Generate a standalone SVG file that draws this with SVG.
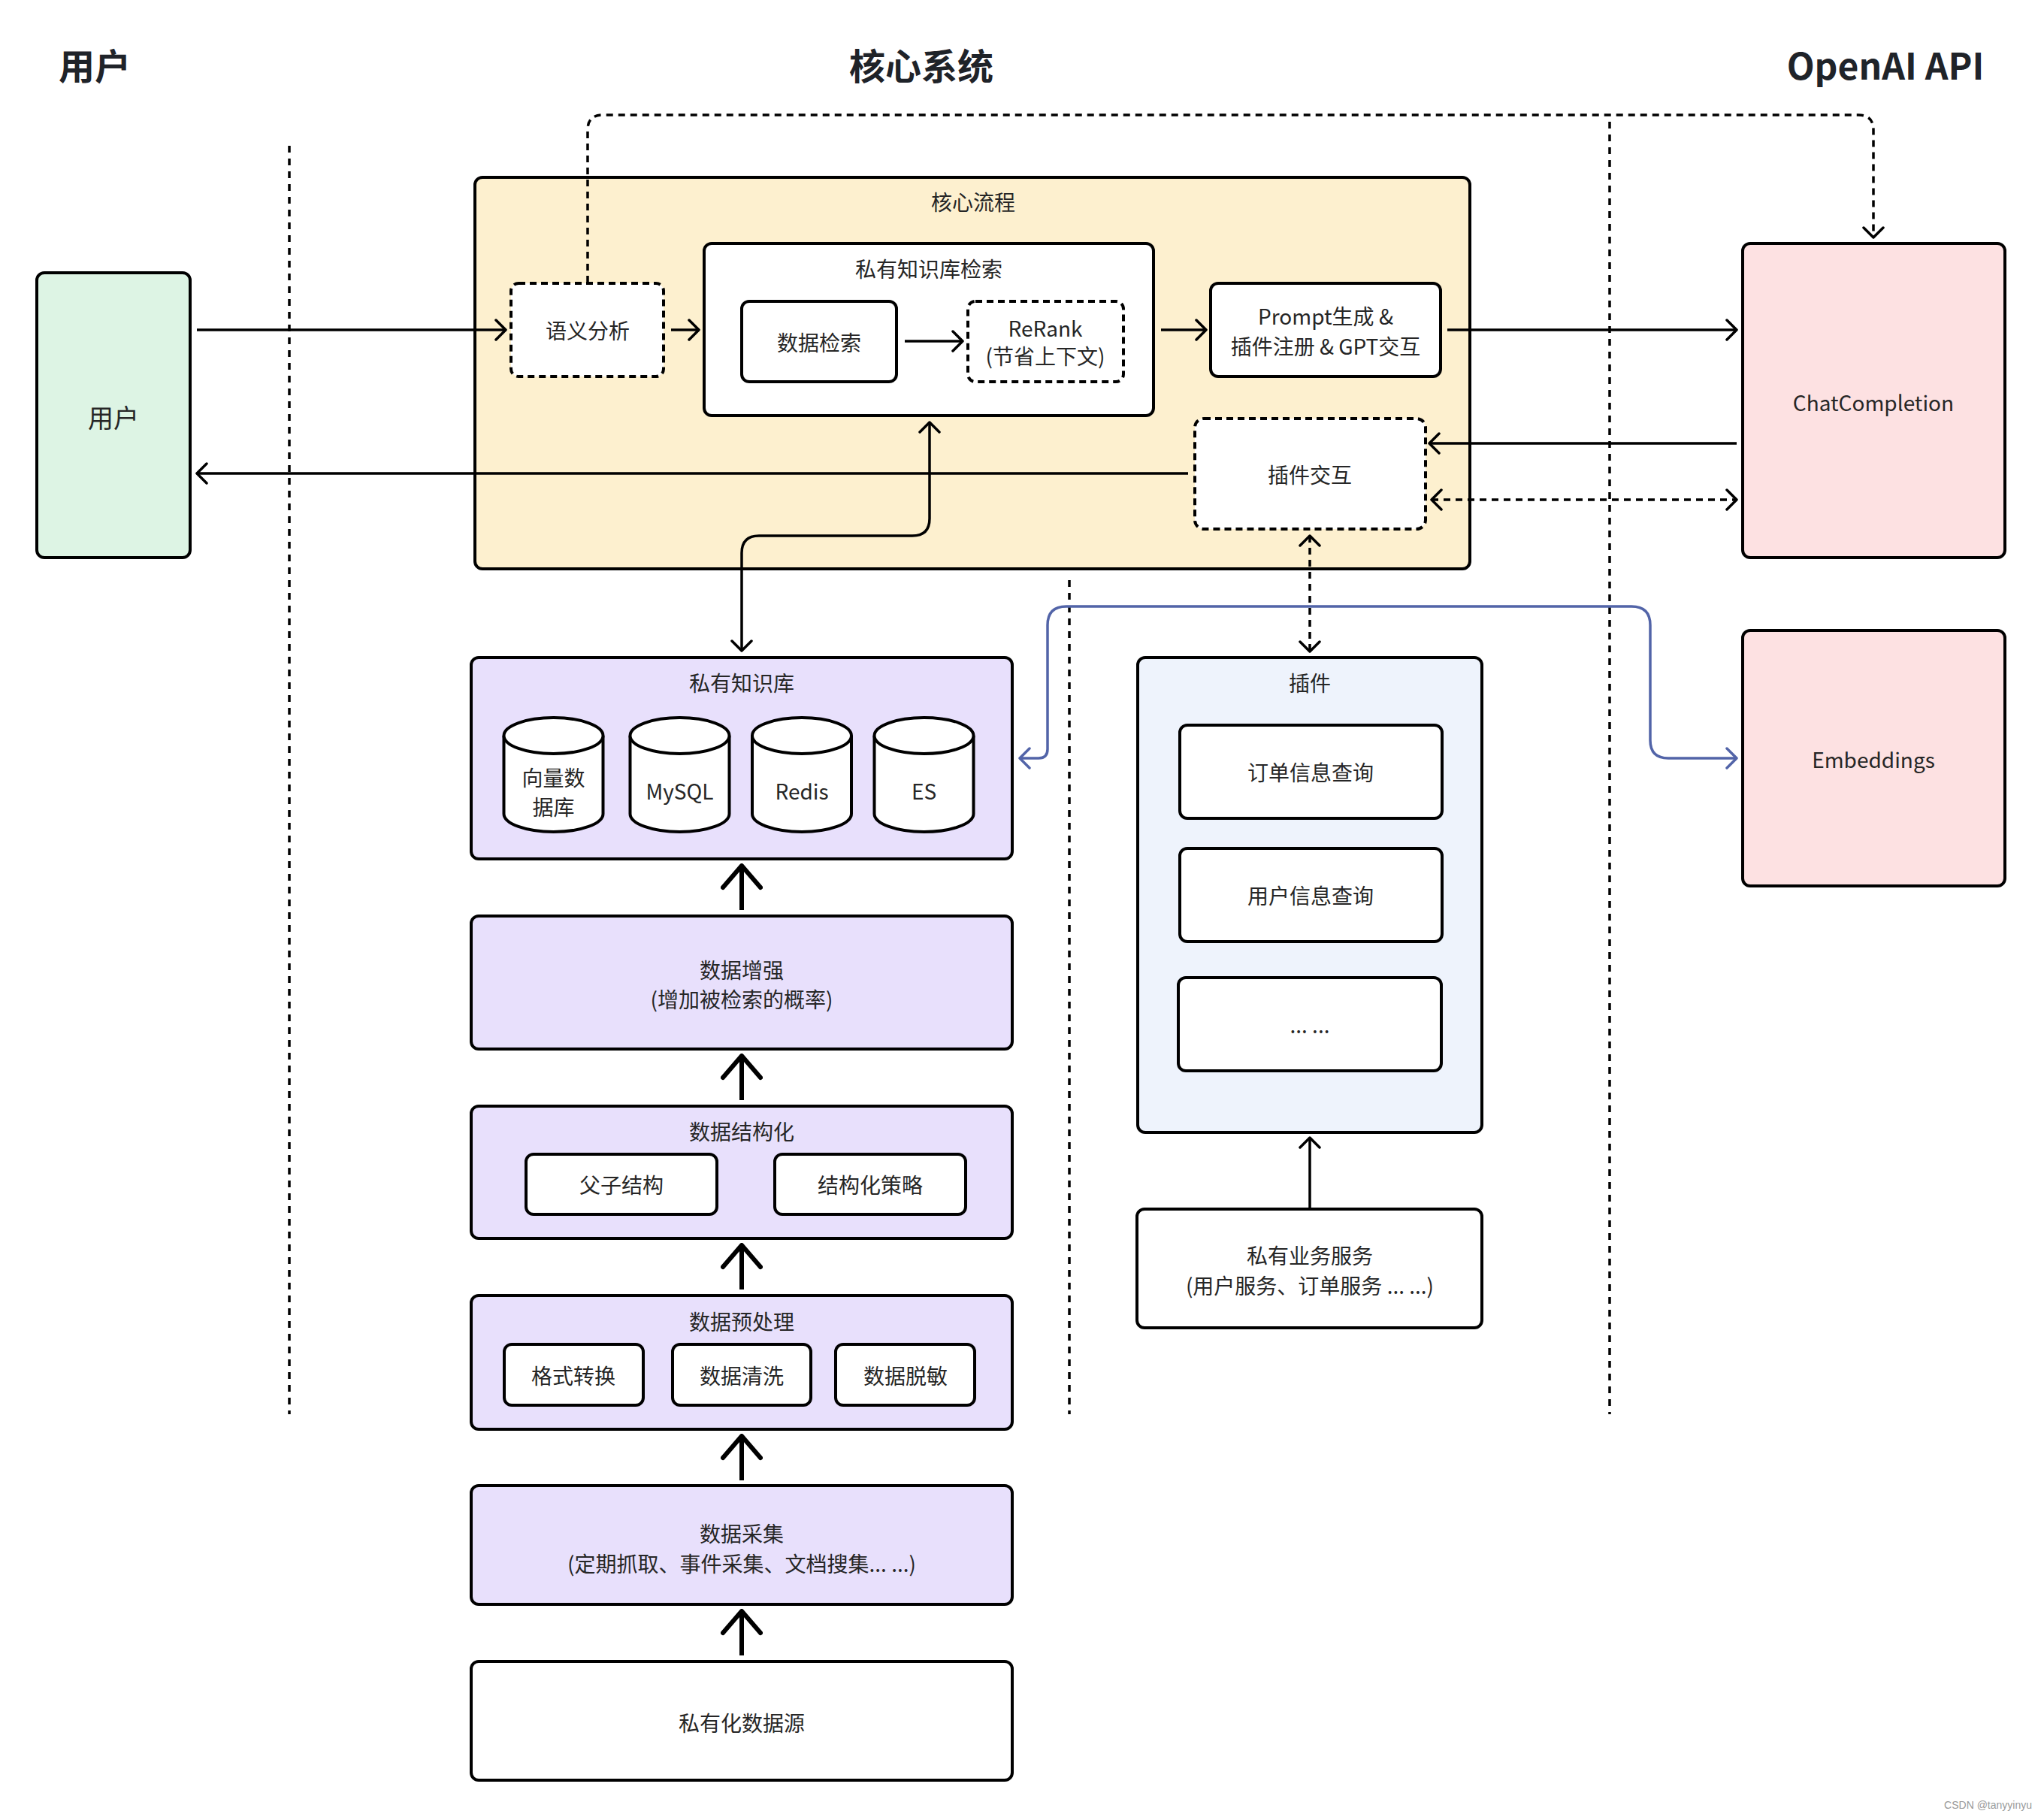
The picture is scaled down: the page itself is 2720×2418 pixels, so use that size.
<svg xmlns="http://www.w3.org/2000/svg" width="2720" height="2418" viewBox="0 0 2720 2418">
<defs>
<style>
.t{font-family:"Noto Sans CJK SC","Noto Sans",sans-serif;font-size:28px;fill:#262626;text-anchor:middle;dominant-baseline:central;}
.h{font-family:"Noto Sans CJK SC","Noto Sans",sans-serif;font-size:48px;font-weight:bold;fill:#1f2329;text-anchor:middle;dominant-baseline:central;}
.b{stroke:#000;stroke-width:4;}
.d{stroke-dasharray:9 6;}
.sep{stroke:#000;stroke-width:3.5;stroke-dasharray:9 8;fill:none;}
.c{stroke:#000;stroke-width:3.5;fill:none;}
.cd{stroke:#000;stroke-width:3.5;fill:none;stroke-dasharray:9 7;}
.big{stroke:#000;stroke-width:6;fill:none;}
.blue{stroke:#5264a8;stroke-width:3.5;fill:none;}
</style>
<marker id="ah" viewBox="0 0 18 30" refX="16" refY="15" markerWidth="18" markerHeight="30" markerUnits="userSpaceOnUse" orient="auto-start-reverse">
<path d="M3,2 L16,15 L3,28" fill="none" stroke="#000" stroke-width="3.5" stroke-linecap="round" stroke-linejoin="round"/>
</marker>
<marker id="ahb" viewBox="0 0 18 30" refX="16" refY="15" markerWidth="18" markerHeight="30" markerUnits="userSpaceOnUse" orient="auto-start-reverse">
<path d="M3,2 L16,15 L3,28" fill="none" stroke="#5264a8" stroke-width="3.5" stroke-linecap="round" stroke-linejoin="round"/>
</marker>
<marker id="big" viewBox="0 0 36 56" refX="33" refY="28" markerWidth="36" markerHeight="56" markerUnits="userSpaceOnUse" orient="auto">
<path d="M4,3 L33,28 L4,53" fill="none" stroke="#000" stroke-width="6" stroke-linecap="round" stroke-linejoin="round"/>
</marker>
</defs>
<rect width="2720" height="2418" fill="#fff"/>

<g id="headers">
<text class="h" x="126" y="85">用户</text>
<text class="h" x="1226" y="85">核心系统</text>
<text class="h" x="2509" y="85">OpenAI API</text>
</g>

<g id="separators">
<line class="sep" x1="385" y1="194" x2="385" y2="1882"/>
<line class="sep" x1="1423" y1="772" x2="1423" y2="1882"/>
<line class="sep" x1="2142" y1="162" x2="2142" y2="1882"/>
</g>

<g id="user">
<rect class="b" x="49" y="363" width="204" height="379" rx="10" fill="#ddf4e4"/>
<text class="t" x="151" y="554" style="font-size:34px">用户</text>
</g>

<g id="core-flow">
<rect class="b" x="632" y="236" width="1324" height="521" rx="10" fill="#fdf0cf"/>
<text class="t" x="1295" y="268">核心流程</text>
</g>

<g id="semantic">
<rect class="b d" x="680" y="377" width="203" height="124" rx="10" fill="#fff"/>
<text class="t" x="782" y="439">语义分析</text>
</g>

<g id="kb-search">
<rect class="b" x="937" y="324" width="598" height="229" rx="10" fill="#fff"/>
<text class="t" x="1236" y="357">私有知识库检索</text>
</g>

<g id="data-search">
<rect class="b" x="987" y="401" width="206" height="107" rx="10" fill="#fff"/>
<text class="t" x="1090" y="455">数据检索</text>
</g>

<g id="rerank">
<rect class="b d" x="1288" y="401" width="207" height="107" rx="10" fill="#fff"/>
<text class="t" x="1391" y="436">ReRank</text>
<text class="t" x="1391" y="473">(节省上下文)</text>
</g>

<g id="prompt">
<rect class="b" x="1611" y="377" width="306" height="124" rx="10" fill="#fff"/>
<text class="t" x="1764" y="420">Prompt生成 &amp;</text>
<text class="t" x="1764" y="460">插件注册 &amp; GPT交互</text>
</g>

<g id="plugin-interact">
<rect class="b d" x="1590" y="557" width="307" height="147" rx="12" fill="#fff"/>
<text class="t" x="1743" y="631">插件交互</text>
</g>

<g id="chat-completion">
<rect class="b" x="2319" y="324" width="349" height="418" rx="10" fill="#fde1e2"/>
<text class="t" x="2493" y="535">ChatCompletion</text>
</g>

<g id="embeddings">
<rect class="b" x="2319" y="839" width="349" height="340" rx="10" fill="#fde1e2"/>
<text class="t" x="2493" y="1010">Embeddings</text>
</g>

<g id="private-kb">
<rect class="b" x="627" y="875" width="720" height="268" rx="10" fill="#e8e0fc"/>
<text class="t" x="987" y="908">私有知识库</text>
<g id="db-vector">
<path class="b" d="M670.5,979 V1083 A66,24 0 0 0 802.5,1083 V979" fill="#fff"/>
<ellipse class="b" cx="736.5" cy="979" rx="66" ry="24" fill="#fff"/>
<text class="t" x="736.5" y="1034">向量数</text>
<text class="t" x="736.5" y="1073">据库</text>
</g>
<g id="db-mysql">
<path class="b" d="M838.5,979 V1083 A66,24 0 0 0 970.5,1083 V979" fill="#fff"/>
<ellipse class="b" cx="904.5" cy="979" rx="66" ry="24" fill="#fff"/>
<text class="t" x="904.5" y="1052">MySQL</text>
</g>
<g id="db-redis">
<path class="b" d="M1001,979 V1083 A66,24 0 0 0 1133,1083 V979" fill="#fff"/>
<ellipse class="b" cx="1067" cy="979" rx="66" ry="24" fill="#fff"/>
<text class="t" x="1067" y="1052">Redis</text>
</g>
<g id="db-es">
<path class="b" d="M1163.5,979 V1083 A66,24 0 0 0 1295.5,1083 V979" fill="#fff"/>
<ellipse class="b" cx="1229.5" cy="979" rx="66" ry="24" fill="#fff"/>
<text class="t" x="1229.5" y="1052">ES</text>
</g>
</g>

<g id="data-enhance">
<rect class="b" x="627" y="1219" width="720" height="177" rx="10" fill="#e8e0fc"/>
<text class="t" x="987" y="1290">数据增强</text>
<text class="t" x="987" y="1329">(增加被检索的概率)</text>
</g>

<g id="data-structure">
<rect class="b" x="627" y="1472" width="720" height="176" rx="10" fill="#e8e0fc"/>
<text class="t" x="987" y="1505">数据结构化</text>
<rect class="b" x="700" y="1536" width="254" height="80" rx="10" fill="#fff"/>
<text class="t" x="827" y="1576">父子结构</text>
<rect class="b" x="1031" y="1536" width="254" height="80" rx="10" fill="#fff"/>
<text class="t" x="1158" y="1576">结构化策略</text>
</g>

<g id="data-preprocess">
<rect class="b" x="627" y="1724" width="720" height="178" rx="10" fill="#e8e0fc"/>
<text class="t" x="987" y="1758">数据预处理</text>
<rect class="b" x="671" y="1789" width="185" height="81" rx="10" fill="#fff"/>
<text class="t" x="763" y="1830">格式转换</text>
<rect class="b" x="895" y="1789" width="184" height="81" rx="10" fill="#fff"/>
<text class="t" x="987" y="1830">数据清洗</text>
<rect class="b" x="1112" y="1789" width="185" height="81" rx="10" fill="#fff"/>
<text class="t" x="1205" y="1830">数据脱敏</text>
</g>

<g id="data-collect">
<rect class="b" x="627" y="1977" width="720" height="158" rx="10" fill="#e8e0fc"/>
<text class="t" x="987" y="2040">数据采集</text>
<text class="t" x="987" y="2080">(定期抓取、事件采集、文档搜集... ...)</text>
</g>

<g id="data-source">
<rect class="b" x="627" y="2211" width="720" height="158" rx="10" fill="#fff"/>
<text class="t" x="987" y="2292">私有化数据源</text>
</g>

<g id="plugins">
<rect class="b" x="1514" y="875" width="458" height="632" rx="10" fill="#eef3fc"/>
<text class="t" x="1743" y="908">插件</text>
<rect class="b" x="1570" y="965" width="349" height="124" rx="10" fill="#fff"/>
<text class="t" x="1744" y="1027">订单信息查询</text>
<rect class="b" x="1570" y="1129" width="349" height="124" rx="10" fill="#fff"/>
<text class="t" x="1744" y="1191">用户信息查询</text>
<rect class="b" x="1568" y="1301" width="350" height="124" rx="10" fill="#fff"/>
<text class="t" x="1743" y="1363">... ...</text>
</g>

<g id="biz-service">
<rect class="b" x="1513" y="1609" width="459" height="158" rx="10" fill="#fff"/>
<text class="t" x="1743" y="1670">私有业务服务</text>
<text class="t" x="1743" y="1710">(用户服务、订单服务 ... ...)</text>
</g>

<g id="connectors">
<line class="c" x1="262" y1="439" x2="673" y2="439" marker-end="url(#ah)"/>
<line class="c" x1="893" y1="439" x2="930" y2="439" marker-end="url(#ah)"/>
<line class="c" x1="1204" y1="454" x2="1281" y2="454" marker-end="url(#ah)"/>
<line class="c" x1="1545" y1="439" x2="1605" y2="439" marker-end="url(#ah)"/>
<line class="c" x1="1926" y1="439" x2="2311" y2="439" marker-end="url(#ah)"/>
<line class="c" x1="2311" y1="590" x2="1902" y2="590" marker-end="url(#ah)"/>
<line class="cd" x1="1905" y1="665" x2="2311" y2="665" marker-start="url(#ah)" marker-end="url(#ah)"/>
<line class="c" x1="1581" y1="630" x2="262" y2="630" marker-end="url(#ah)"/>
<path class="cd" d="M782,376 V173 Q782,153 802,153 H2473 Q2493,153 2493,173 V316" marker-end="url(#ah)"/>
<path class="c" d="M987,866 V736 Q987,713 1010,713 H1214 Q1237,713 1237,690 V562" marker-start="url(#ah)" marker-end="url(#ah)"/>
<line class="cd" x1="1743" y1="713" x2="1743" y2="867" marker-start="url(#ah)" marker-end="url(#ah)"/>
<line class="c" x1="1743" y1="1609" x2="1743" y2="1514" marker-end="url(#ah)"/>
<path class="blue" d="M1357,1009 H1382 Q1394,1009 1394,997 V832 Q1394,807 1419,807 H2171 Q2196,807 2196,832 V985 Q2196,1009 2220,1009 H2311" marker-start="url(#ahb)" marker-end="url(#ahb)"/>
<line class="big" x1="987" y1="1211" x2="987" y2="1152" marker-end="url(#big)"/>
<line class="big" x1="987" y1="1464" x2="987" y2="1405" marker-end="url(#big)"/>
<line class="big" x1="987" y1="1716" x2="987" y2="1657" marker-end="url(#big)"/>
<line class="big" x1="987" y1="1970" x2="987" y2="1911" marker-end="url(#big)"/>
<line class="big" x1="987" y1="2203" x2="987" y2="2144" marker-end="url(#big)"/>
</g>

<text x="2704" y="2402" font-family="Liberation Sans, Arial, sans-serif" font-size="14" fill="#999" text-anchor="end" dominant-baseline="central">CSDN @tanyyinyu</text>
</svg>
